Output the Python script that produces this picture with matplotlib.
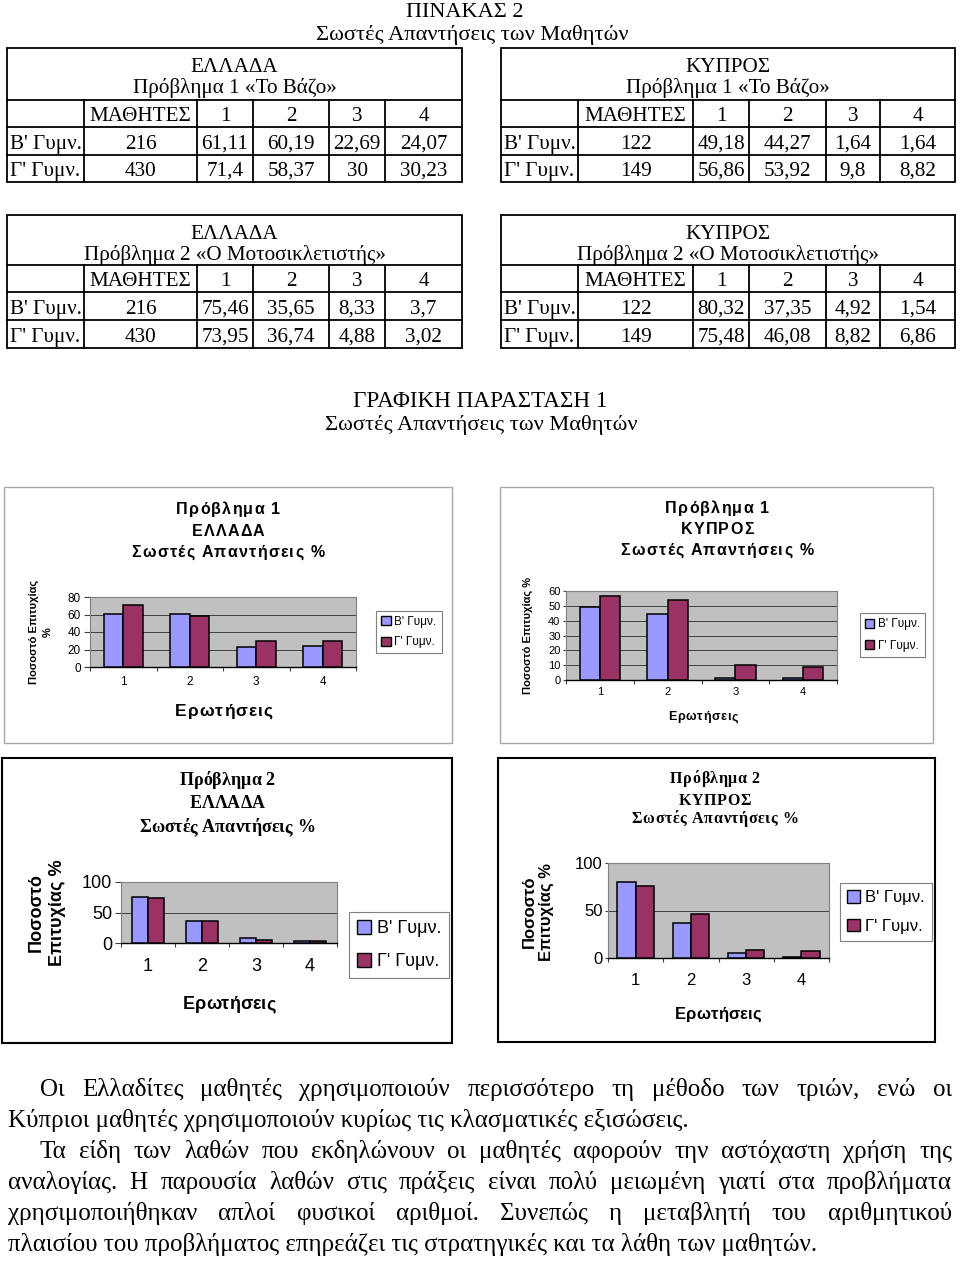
import matplotlib
matplotlib.use("Agg")
import matplotlib.pyplot as plt
from matplotlib.patches import Rectangle, Patch
import numpy as np

W, H = 960, 1261
SERIF = "Liberation Serif"
SANS = "Liberation Sans"
plt.rcParams["font.family"] = [SANS, "DejaVu Sans"]

questions = ["1", "2", "3", "4"]
grades = ["Β' Γυμν.", "Γ' Γυμν."]
students_gr = [216, 430]
students_cy = [122, 149]
gr_p1_b = [61.11, 60.19, 22.69, 24.07]
gr_p1_g = [71.4, 58.37, 30, 30.23]
cy_p1_b = [49.18, 44.27, 1.64, 1.64]
cy_p1_g = [56.86, 53.92, 9.8, 8.82]
gr_p2_b = [75.46, 35.65, 8.33, 3.7]
gr_p2_g = [73.95, 36.74, 4.88, 3.02]
cy_p2_b = [80.32, 37.35, 4.92, 1.54]
cy_p2_g = [75.48, 46.08, 8.82, 6.86]

BLUE = "#9999FF"
PLUM = "#993366"
PLOT_BG = "#C0C0C0"

fig = plt.figure(figsize=(W / 100, H / 100), dpi=100)
ov = fig.add_axes([0, 0, 1, 1])
ov.set_xlim(0, W)
ov.set_ylim(H, 0)
ov.axis("off")
renderer = fig.canvas.get_renderer()


def fmt(v):
    return str(v).replace(".", ",")


def width_of(s, **kw):
    t = ov.text(0, 0, s, **kw)
    w = t.get_window_extent(renderer).width
    t.remove()
    return w


def spaced(xc, base, s, spacing, **kw):
    # Excel-style letter-spaced text, centred on xc
    sp = width_of("a a", **kw) - width_of("aa", **kw)
    widths = [sp if ch == " " else width_of(ch, **kw) for ch in s]
    total = sum(widths) + spacing * (len(s) - 1)
    xx = xc - total / 2
    for ch, w in zip(s, widths):
        if ch != " ":
            ov.text(xx, base, ch, ha="left", va="baseline", **kw)
        xx += w + spacing


def line(x0, y0, x1, y1):
    ov.plot([x0, x1], [y0, y1], color="black", lw=1.3, solid_capstyle="projecting")


def table(cols, rows, country, problem, students, vals_b, vals_g, fs=15.2):
    ov.add_patch(Rectangle((cols[0], rows[0]), cols[-1] - cols[0], rows[-1] - rows[0],
                           fill=False, ec="black", lw=1.3))
    for y in rows[1:-1]:
        line(cols[0], y, cols[-1], y)
    for x in cols[1:-1]:
        line(x, rows[1], x, rows[-1])
    cx = (cols[0] + cols[-1]) / 2
    ov.text(cx, rows[0] + 24, country, ha="center", va="baseline", fontsize=fs, family=SERIF)
    ov.text(cx, rows[0] + 45, problem, ha="center", va="baseline", fontsize=fs, family=SERIF)
    cells = [["", "ΜΑΘΗΤΕΣ"] + questions,
             [grades[0], str(students[0])] + [fmt(v) for v in vals_b],
             [grades[1], str(students[1])] + [fmt(v) for v in vals_g]]
    for r, row in enumerate(cells):
        base = rows[r + 2] - 6
        for c, txt in enumerate(row):
            ov.text((cols[c] + cols[c + 1]) / 2, base, txt, ha="center", va="baseline",
                    fontsize=fs, family=SERIF)


ov.text(465, 17, "ΠΙΝΑΚΑΣ 2", ha="center", va="baseline", fontsize=16, family=SERIF)
ov.text(472, 40, "Σωστές Απαντήσεις των Μαθητών", ha="center", va="baseline",
        fontsize=16.2, family=SERIF)

cols_l = [7, 84, 197, 253, 329, 385, 462]
cols_r = [501, 578, 693, 749, 826, 880, 955]
table(cols_l, [48, 100, 127, 155, 182], "ΕΛΛΑΔΑ", "Πρόβλημα 1 «Το Βάζο»",
      students_gr, gr_p1_b, gr_p1_g)
table(cols_r, [48, 100, 127, 155, 182], "ΚΥΠΡΟΣ", "Πρόβλημα 1 «Το Βάζο»",
      students_cy, cy_p1_b, cy_p1_g)
table(cols_l, [215, 265, 292, 320, 348], "ΕΛΛΑΔΑ", "Πρόβλημα 2 «Ο Μοτοσικλετιστής»",
      students_gr, gr_p2_b, gr_p2_g)
table(cols_r, [215, 265, 292, 320, 348], "ΚΥΠΡΟΣ", "Πρόβλημα 2 «Ο Μοτοσικλετιστής»",
      students_cy, cy_p2_b, cy_p2_g)

ov.text(480, 407, "ΓΡΑΦΙΚΗ ΠΑΡΑΣΤΑΣΗ 1", ha="center", va="baseline", fontsize=16.7, family=SERIF)
ov.text(481, 430, "Σωστές Απαντήσεις των Μαθητών", ha="center", va="baseline",
        fontsize=16.2, family=SERIF)


def chart(frame, frame_ec, frame_lw, plot, vals_b, vals_g, ymax, ystep, bar_w,
          title, title_x, title_bases, title_family, title_fs, title_sp,
          tick_fs, xpad, ylen, ypad,
          xlabel_xy, xlabel_fs, xlabel_sp, ylabel, ylabel_xy, ylabel_fs, ylabel_ls,
          legend_box, legend_fs, legend_ls):
    ov.add_patch(Rectangle((frame[0], frame[1]), frame[2] - frame[0], frame[3] - frame[1],
                           fill=False, ec=frame_ec, lw=frame_lw))
    for txt, tb in zip(title, title_bases):
        spaced(title_x, tb, txt, title_sp, fontsize=title_fs, weight="bold", family=title_family)
    ax = fig.add_axes([plot[0] / W, 1 - plot[3] / H, (plot[2] - plot[0]) / W,
                       (plot[3] - plot[1]) / H])
    ax.set_facecolor(PLOT_BG)
    x = np.arange(len(questions))
    ax.bar(x - bar_w / 2, vals_b, bar_w, color=BLUE, edgecolor="black", lw=1.1, zorder=3)
    ax.bar(x + bar_w / 2, vals_g, bar_w, color=PLUM, edgecolor="black", lw=1.1, zorder=3)
    ax.set_xlim(-0.5, len(questions) - 0.5)
    ax.set_ylim(0, ymax)
    ax.set_xticks(x, questions)
    ax.set_xticks(np.arange(len(questions) + 1) - 0.5, minor=True)
    ax.set_yticks(np.arange(0, ymax + 1, ystep))
    ax.tick_params(axis="x", which="major", length=0, pad=xpad, labelsize=tick_fs)
    ax.tick_params(axis="x", which="minor", length=3, width=0.8, color="#404040")
    ax.tick_params(axis="y", length=ylen, width=0.8, pad=ypad, labelsize=tick_fs,
                   color="#404040")
    ax.yaxis.grid(True, color="#404040", lw=0.7, zorder=1)
    ax.set_axisbelow(True)
    for s in ["left", "top", "right"]:
        ax.spines[s].set_color("#808080")
        ax.spines[s].set_linewidth(0.8)
    ax.spines["bottom"].set_color("black")
    ax.spines["bottom"].set_linewidth(1.0)
    spaced(xlabel_xy[0], xlabel_xy[1], "Ερωτήσεις", xlabel_sp, fontsize=xlabel_fs,
           weight="bold", family=SANS)
    ov.text(ylabel_xy[0], ylabel_xy[1], ylabel, ha="center", va="center", rotation=90,
            fontsize=ylabel_fs, weight="bold", multialignment="center", linespacing=ylabel_ls)
    handles = [Patch(facecolor=BLUE, edgecolor="black", label=grades[0]),
               Patch(facecolor=PLUM, edgecolor="black", label=grades[1])]
    cx = (legend_box[0] + legend_box[2]) / 2 / W
    cy = 1 - (legend_box[1] + legend_box[3]) / 2 / H
    leg = ax.legend(handles=handles, loc="center", bbox_to_anchor=(cx, cy),
                    bbox_transform=fig.transFigure, fontsize=legend_fs, frameon=True,
                    fancybox=False, edgecolor="#808080", framealpha=1,
                    handlelength=0.8, handleheight=0.8, handletextpad=0.3,
                    borderpad=0.45, labelspacing=legend_ls, borderaxespad=0)
    leg.get_frame().set_linewidth(0.8)
    return ax


chart((4, 487, 452, 743), "#a8a8a8", 1.0, (90, 597, 356, 667), gr_p1_b, gr_p1_g, 80, 20, 0.29,
      ["Πρόβλημα 1", "ΕΛΛΑΔΑ", "Σωστές Απαντήσεις %"], 228, [514, 536, 557], SANS, 11.5, 1.2,
      8.5, 6.5, 4, 2.5,
      (224, 716), 12.5, 1.0, "Ποσοστό Επιτυχίας\n%", (41, 632), 8, 1.5,
      (374, 612, 444, 652), 8.5, 0.7)

chart((500, 487, 933, 743), "#a8a8a8", 1.0, (566, 591, 837, 680), cy_p1_b, cy_p1_g, 60, 10, 0.3,
      ["Πρόβλημα 1", "ΚΥΠΡΟΣ", "Σωστές Απαντήσεις %"], 717, [513, 534, 555], SANS, 11.5, 1.2,
      8, 5, 2, 2,
      (703, 720), 9, 0.6, "Ποσοστό Επιτυχίας %", (528, 635), 8, 1.2,
      (858, 616, 927, 654), 8.5, 0.8)

chart((2, 758, 452, 1043), "black", 1.5, (121, 882, 337, 943), gr_p2_b, gr_p2_g, 100, 50, 0.3,
      ["Πρόβλημα 2", "ΕΛΛΑΔΑ", "Σωστές Απαντήσεις %"], 227, [785, 808, 832], SERIF, 13, 0,
      13, 11, 4, 2.5,
      (229, 1009), 13, 0, "Ποσοστό\nΕπιτυχίας %", (47, 913), 13, 1.3,
      (353, 912, 445, 978), 13, 0.9)

chart((498, 758, 935, 1042), "black", 1.5, (608, 863, 829, 958), cy_p2_b, cy_p2_g, 100, 50, 0.33,
      ["Πρόβλημα 2", "ΚΥΠΡΟΣ", "Σωστές Απαντήσεις %"], 715, [783, 805, 823], SERIF, 11.5, 0.6,
      12, 10.5, 2, 2,
      (718, 1019), 12, 0, "Ποσοστό\nΕπιτυχίας %", (538, 912), 12, 1.15,
      (844, 884, 928, 940), 12, 0.8)

# closing paragraphs, justified like the page
para = [
    ("Οι Ελλαδίτες μαθητές χρησιμοποιούν περισσότερο τη μέθοδο των τριών, ενώ οι", 40, True),
    ("Κύπριοι μαθητές χρησιμοποιούν κυρίως τις κλασματικές εξισώσεις.", 8, False),
    ("Τα είδη των λαθών που εκδηλώνουν οι μαθητές αφορούν την αστόχαστη χρήση της", 40, True),
    ("αναλογίας.  Η παρουσία λαθών στις πράξεις είναι πολύ μειωμένη γιατί στα προβλήματα", 8, True),
    ("χρησιμοποιήθηκαν απλοί φυσικοί αριθμοί. Συνεπώς η μεταβλητή του αριθμητικού", 8, True),
    ("πλαισίου του προβλήματος επηρεάζει τις στρατηγικές και τα λάθη των μαθητών.", 8, False),
]
PARA_FS = 18
RIGHT = 952
for i, (txt, x0, justify) in enumerate(para):
    y = 1096 + 30.9 * i
    if not justify:
        ov.text(x0, y, txt, ha="left", va="baseline", fontsize=PARA_FS, family=SERIF)
        continue
    words = [w for w in txt.split(" ") if w]
    items = [ov.text(0, y, w, ha="left", va="baseline", fontsize=PARA_FS, family=SERIF)
             for w in words]
    widths = [t.get_window_extent(renderer).width for t in items]
    gap = (RIGHT - x0 - sum(widths)) / (len(words) - 1)
    xx = x0
    for t, w in zip(items, widths):
        t.set_x(xx)
        xx += w + gap

fig.savefig("out.png", dpi=100)
